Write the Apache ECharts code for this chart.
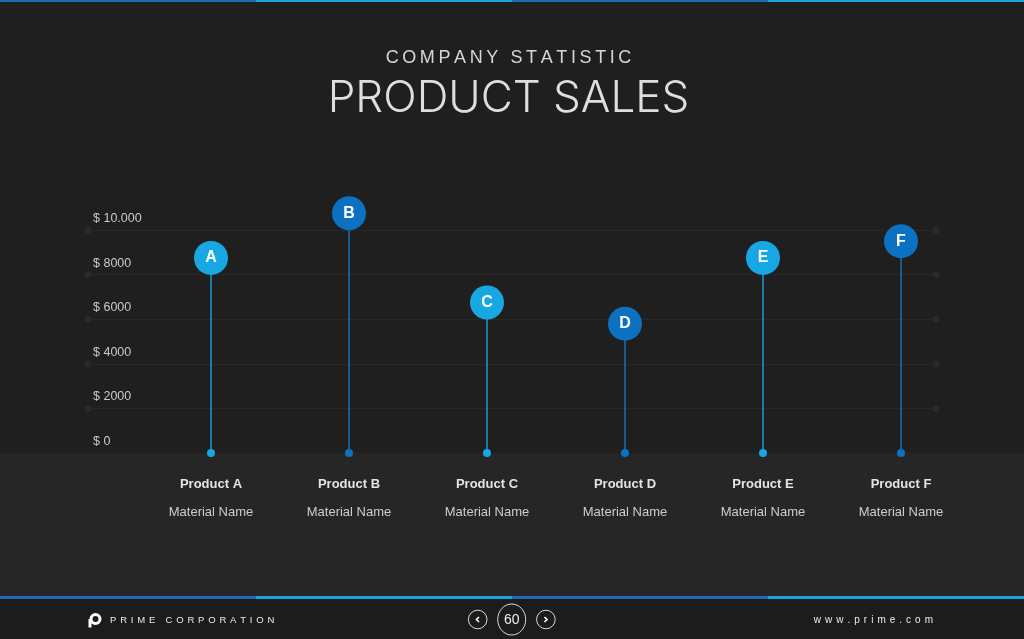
<!DOCTYPE html>
<html>
<head>
<meta charset="utf-8">
<script src="https://cdn.jsdelivr.net/npm/echarts@6/dist/echarts.min.js"></script>
<style>
html,body{margin:0;padding:0;background:#1f1f1f;}
#chart{width:1024px;height:639px;}
</style>
</head>
<body>
<div id="chart"></div>
<script>
// ---- data ----
const categories = ['Product A', 'Product B', 'Product C', 'Product D', 'Product E', 'Product F'];
const subLabels = ['Material Name', 'Material Name', 'Material Name', 'Material Name', 'Material Name', 'Material Name'];
const markers = ['A', 'B', 'C', 'D', 'E', 'F'];
const sales = [8750, 10750, 6750, 5800, 8750, 9500];
const yTicks = [0, 2000, 4000, 6000, 8000, 10000];
const yTickLabels = ['$ 0', '$ 2000', '$ 4000', '$ 6000', '$ 8000', '$ 10.000'];
const titleSmall = 'COMPANY STATISTIC';
const titleBig = 'PRODUCT SALES';
const brand = 'PRIME CORPORATION';
const website = 'www.prime.com';
const pageNo = '60';

// ---- styles ----
const LIGHT = '#17a8e4';
const DARK = '#0b71c0';
const STEM_LIGHT = '#1a98d4';
const STEM_DARK = '#1572b8';
const headColor = i => (i % 2 === 0 ? LIGHT : DARK);
const stemColor = i => (i % 2 === 0 ? STEM_LIGHT : STEM_DARK);
const spaced = (s, sp) => Array.from(s).join(sp);

const chart = echarts.init(document.getElementById('chart'));

const dotData = [];
yTicks.filter(v => v > 0).forEach(v => { dotData.push([0, v]); dotData.push([1, v]); });

const option = {
  backgroundColor: '#1f1f1f',
  animation: false,
  grid: [
    { left: 88, right: 88, top: 230, height: 223 },
    { left: 142, right: 54, top: 230, height: 223 }
  ],
  xAxis: [
    { gridIndex: 0, type: 'value', min: 0, max: 1, show: false },
    {
      gridIndex: 1, type: 'category', data: categories, boundaryGap: true,
      axisLine: { show: false }, axisTick: { show: false }, splitLine: { show: false },
      axisLabel: {
        margin: 17,
        formatter: (val, idx) => '{a|' + val + '}\n{b|' + subLabels[idx] + '}',
        rich: {
          a: { fontFamily: 'Liberation Sans', fontWeight: 'bold', fontSize: 13, color: '#e4e4e4', lineHeight: 28 },
          b: { fontFamily: 'Liberation Sans', fontSize: 13, color: '#cdcdcd', lineHeight: 28 }
        }
      }
    }
  ],
  yAxis: [
    {
      gridIndex: 0, type: 'value', min: yTicks[0], max: yTicks[yTicks.length - 1], interval: yTicks[1] - yTicks[0],
      axisLine: { show: false }, axisTick: { show: false },
      splitLine: { show: true, showMinLine: false, lineStyle: { color: '#292929', width: 1 } },
      axisLabel: {
        inside: true, margin: 5, verticalAlign: 'bottom', padding: [0, 0, 5, 0],
        fontFamily: 'Liberation Sans', fontSize: 12.5, color: '#c9c9c9',
        formatter: v => yTickLabels[yTicks.indexOf(v)]
      }
    },
    { gridIndex: 1, type: 'value', min: yTicks[0], max: yTicks[yTicks.length - 1], show: false }
  ],
  series: [
    {
      type: 'scatter', xAxisIndex: 0, yAxisIndex: 0, data: dotData, symbolSize: 7, silent: true,
      itemStyle: { color: '#2a2a2a', opacity: 1 }, z: 1
    },
    {
      type: 'bar', xAxisIndex: 1, yAxisIndex: 1, barWidth: 1.5, clip: false,
      data: sales.map((v, i) => ({ value: v, itemStyle: { color: stemColor(i) } })), z: 3
    },
    {
      type: 'scatter', xAxisIndex: 1, yAxisIndex: 1, symbolSize: 8, clip: false,
      data: sales.map((v, i) => ({ value: 0, itemStyle: { color: headColor(i), opacity: 1 } })), z: 4
    },
    {
      type: 'scatter', xAxisIndex: 1, yAxisIndex: 1, symbolSize: 34, clip: false,
      data: sales.map((v, i) => ({ value: v, itemStyle: { color: headColor(i), opacity: 1 } })),
      label: {
        show: true, position: 'inside', formatter: p => markers[p.dataIndex],
        fontFamily: 'Liberation Sans', fontWeight: 'bold', fontSize: 16, color: '#ffffff'
      },
      z: 5
    }
  ],
  graphic: [
    // background bands
    { type: 'rect', z: -10, silent: true, shape: { x: 0, y: 453, width: 1024, height: 143 }, style: { fill: '#262626' } },
    { type: 'rect', z: -10, silent: true, shape: { x: 0, y: 599, width: 1024, height: 40 }, style: { fill: '#1c1c1c' } },
    // top accent line
    { type: 'rect', z: -5, silent: true, shape: { x: 0, y: 0, width: 256, height: 2 }, style: { fill: '#1e6db3' } },
    { type: 'rect', z: -5, silent: true, shape: { x: 256, y: 0, width: 256, height: 2 }, style: { fill: '#1ba4de' } },
    { type: 'rect', z: -5, silent: true, shape: { x: 512, y: 0, width: 256, height: 2 }, style: { fill: '#1e6db3' } },
    { type: 'rect', z: -5, silent: true, shape: { x: 768, y: 0, width: 256, height: 2 }, style: { fill: '#1ba4de' } },
    // bottom accent line
    { type: 'rect', z: -5, silent: true, shape: { x: 0, y: 596, width: 256, height: 3 }, style: { fill: '#1e6db3' } },
    { type: 'rect', z: -5, silent: true, shape: { x: 256, y: 596, width: 256, height: 3 }, style: { fill: '#1ba4de' } },
    { type: 'rect', z: -5, silent: true, shape: { x: 512, y: 596, width: 256, height: 3 }, style: { fill: '#1e6db3' } },
    { type: 'rect', z: -5, silent: true, shape: { x: 768, y: 596, width: 256, height: 3 }, style: { fill: '#1ba4de' } },
    // titles
    {
      type: 'text', silent: true, x: 508.5, y: 58,
      style: { text: spaced(titleSmall, '\u2009'), font: '18px "Liberation Sans"', fill: '#d6d6d6', align: 'center', verticalAlign: 'middle' }
    },
    {
      type: 'text', silent: true, x: 508.5, y: 99,
      style: { text: titleBig, font: '300 44px "Inter"', fill: '#dedede', align: 'center', verticalAlign: 'middle' }
    },
    // footer logo
    { type: 'circle', silent: true, shape: { cx: 95.5, cy: 619, r: 4.5 }, style: { fill: 'none', stroke: '#ffffff', lineWidth: 3 } },
    { type: 'rect', silent: true, shape: { x: 88.5, y: 619, width: 3, height: 8.5 }, style: { fill: '#ffffff' } },
    {
      type: 'text', silent: true, x: 110, y: 620,
      style: { text: spaced(brand, '\u2009\u2009'), font: '9.5px "Liberation Sans"', fill: '#ebebeb', align: 'left', verticalAlign: 'middle' }
    },
    // pager
    { type: 'circle', silent: true, shape: { cx: 477.7, cy: 619.5, r: 9.3 }, style: { fill: 'none', stroke: '#dcdcdc', lineWidth: 1 } },
    { type: 'polyline', silent: true, shape: { points: [[479, 617], [476.5, 619.5], [479, 622]] }, style: { fill: 'none', stroke: '#ffffff', lineWidth: 1.6 } },
    { type: 'ellipse', silent: true, shape: { cx: 511.7, cy: 619.5, rx: 14, ry: 15.5 }, style: { fill: 'none', stroke: '#dcdcdc', lineWidth: 1 } },
    {
      type: 'text', silent: true, x: 511.7, y: 620,
      style: { text: pageNo, font: '14px "Liberation Sans"', fill: '#eeeeee', align: 'center', verticalAlign: 'middle' }
    },
    { type: 'circle', silent: true, shape: { cx: 545.9, cy: 619.5, r: 9.3 }, style: { fill: 'none', stroke: '#dcdcdc', lineWidth: 1 } },
    { type: 'polyline', silent: true, shape: { points: [[544.5, 617], [547, 619.5], [544.5, 622]] }, style: { fill: 'none', stroke: '#ffffff', lineWidth: 1.6 } },
    {
      type: 'text', silent: true, x: 933, y: 620,
      style: { text: spaced(website, '\u2009\u2009'), font: '10px "Liberation Sans"', fill: '#ebebeb', align: 'right', verticalAlign: 'middle' }
    }
  ]
};
chart.setOption(option);
</script>
</body>
</html>
